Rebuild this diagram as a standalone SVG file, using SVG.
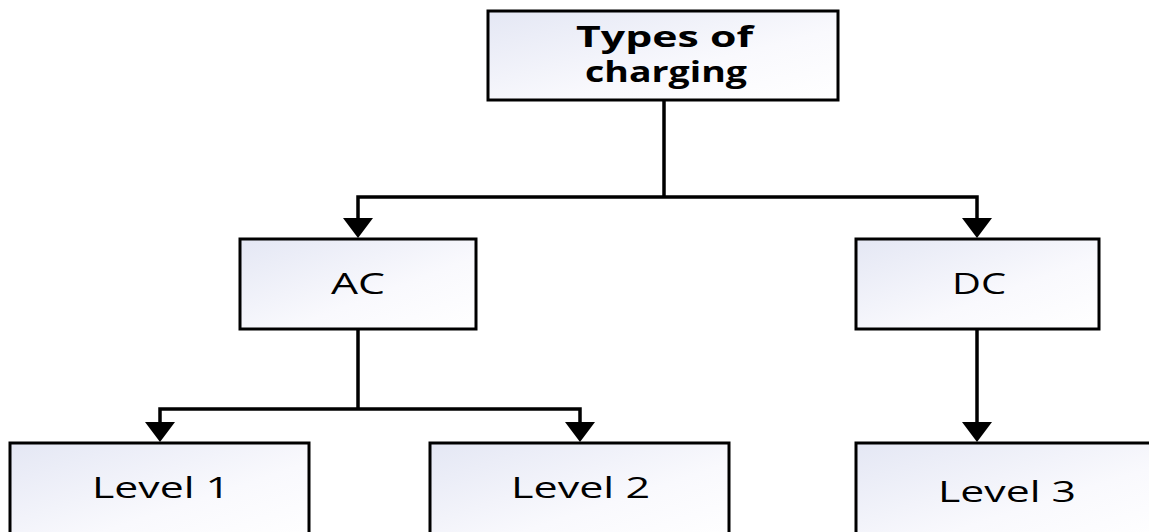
<svg xmlns="http://www.w3.org/2000/svg" width="1149" height="532" viewBox="0 0 1149 532">
  <style>
    .box { fill: url(#boxfill); stroke: #000; stroke-width: 3; }
    .conn { fill: none; stroke: #000; stroke-width: 3.5; }
    .lbl { font-family: "Open Sans", "Liberation Sans", sans-serif; font-size: 30px; fill: #000; }
    .title { font-family: "Open Sans", "Liberation Sans", sans-serif; font-size: 29px; font-weight: bold; fill: #000; }
  </style>
  <defs>
    <linearGradient id="boxfill" x1="0" y1="0" x2="1" y2="1">
      <stop offset="0" stop-color="#e4e7f4"/>
      <stop offset="0.6" stop-color="#f9f9fd"/>
      <stop offset="1" stop-color="#ffffff"/>
    </linearGradient>
    <marker id="arrow" markerUnits="userSpaceOnUse" markerWidth="21" markerHeight="32" viewBox="0 0 21 32" refX="1" refY="16" orient="auto">
      <path d="M0,1 L20,16 L0,31 z" fill="#000"/>
    </marker>
  </defs>
  <rect width="1149" height="532" fill="#ffffff"/>

  <g id="connectors">
    <path class="conn" d="M664,101 V197"/>
    <path class="conn" d="M664,197 H358 V219" marker-end="url(#arrow)"/>
    <path class="conn" d="M664,197 H977 V219" marker-end="url(#arrow)"/>
    <path class="conn" d="M358,330 V409"/>
    <path class="conn" d="M358,409 H160 V423" marker-end="url(#arrow)"/>
    <path class="conn" d="M358,409 H580 V423" marker-end="url(#arrow)"/>
    <path class="conn" d="M977,329 V423" marker-end="url(#arrow)"/>
  </g>

  <g id="node-types">
    <rect class="box" x="488" y="11" width="350" height="89"/>
    <text class="title" x="576" y="47" textLength="177" lengthAdjust="spacingAndGlyphs">Types of</text>
    <text class="title" x="585" y="82" textLength="162" lengthAdjust="spacingAndGlyphs">charging</text>
  </g>

  <g id="node-ac">
    <rect class="box" x="240" y="239" width="236" height="90"/>
    <text class="lbl" x="331" y="294" textLength="54" lengthAdjust="spacingAndGlyphs">AC</text>
  </g>

  <g id="node-dc">
    <rect class="box" x="856" y="239" width="243" height="90"/>
    <text class="lbl" x="952" y="294" textLength="54" lengthAdjust="spacingAndGlyphs">DC</text>
  </g>

  <g id="node-level1">
    <rect class="box" x="10" y="443" width="299" height="100"/>
    <text class="lbl" x="92" y="498" textLength="138" lengthAdjust="spacingAndGlyphs">Level 1</text>
  </g>

  <g id="node-level2">
    <rect class="box" x="430" y="443" width="299" height="100"/>
    <text class="lbl" x="511" y="498" textLength="139" lengthAdjust="spacingAndGlyphs">Level 2</text>
  </g>

  <g id="node-level3">
    <rect class="box" x="856" y="443" width="310" height="100"/>
    <text class="lbl" x="938" y="502" textLength="138" lengthAdjust="spacingAndGlyphs">Level 3</text>
  </g>
</svg>
